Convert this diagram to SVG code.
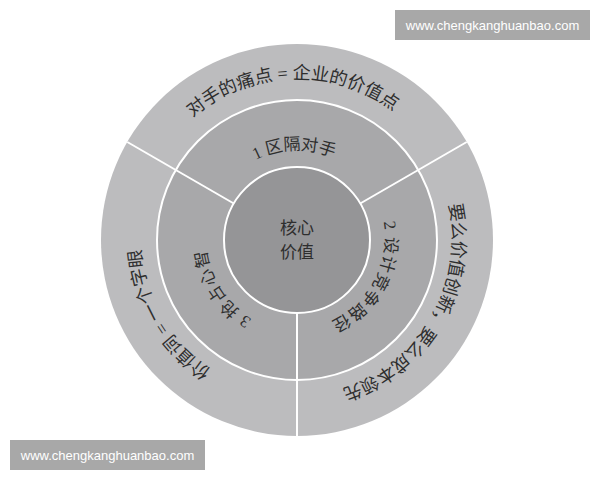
<svg xmlns="http://www.w3.org/2000/svg" xmlns:xlink="http://www.w3.org/1999/xlink" width="600" height="480" viewBox="0 0 600 480">
<style>
.t{font-family:"Liberation Serif","Noto Sans CJK SC",serif;font-size:17px;fill:#2e2e2e;}
.o{font-size:18px;}
.m{letter-spacing:1px;}
.div{stroke:#ffffff;stroke-width:2;fill:none;}
.wm{fill:#a8a8a8;}
.wt{font-family:"Liberation Sans",Arial,sans-serif;font-size:13px;fill:#ffffff;text-anchor:middle;}
</style>
<defs>
<path id="pTopOut" d="M 136,240 A 161 161 0 0 1 458,240"/>
<path id="pRightOut" d="M 376,103.2 A 158 158 0 0 1 218,376.8"/>
<path id="pLeftOut" d="M 375,375.1 A 156 156 0 0 1 219,104.9"/>
<path id="pTopMid" d="M 207,240 A 90 90 0 0 1 387,240"/>
<path id="pRightMid" d="M 339.7,159.7 A 91 91 0 0 1 254.3,320.3"/>
<path id="pLeftMid" d="M 347.6,318 A 93 93 0 0 1 246.4,162"/>
</defs>
<rect width="600" height="480" fill="#ffffff"/>
<g id="outer-ring">
<circle cx="297" cy="240" r="196" fill="#bcbcbe"/>
</g>
<g id="middle-ring">
<circle cx="297" cy="240" r="140" fill="#a8a8aa" stroke="#ffffff" stroke-width="2"/>
</g>
<g id="core">
<circle cx="297" cy="240" r="73" fill="#959597" stroke="#ffffff" stroke-width="2"/>
<text class="t" x="297" y="234" text-anchor="middle">核心</text>
<text class="t" x="297" y="258" text-anchor="middle">价值</text>
</g>
<g id="connectors">
<line class="div" x1="360.2" y1="203.5" x2="466.7" y2="142"/>
<line class="div" x1="233.8" y1="203.5" x2="127.3" y2="142"/>
<line class="div" x1="297" y1="313" x2="297" y2="436"/>
</g>
<g id="seg-1">
<text class="t"><textPath xlink:href="#pTopMid" href="#pTopMid" startOffset="49%" text-anchor="middle">1 区隔对手</textPath></text>
</g>
<g id="seg-2">
<text class="t m"><textPath xlink:href="#pRightMid" href="#pRightMid" startOffset="50%" text-anchor="middle">2 设计竞争路径</textPath></text>
</g>
<g id="seg-3">
<text class="t m"><textPath xlink:href="#pLeftMid" href="#pLeftMid" startOffset="50%" text-anchor="middle">3 抢占心智</textPath></text>
</g>
<g id="outer-top">
<text class="t o"><textPath xlink:href="#pTopOut" href="#pTopOut" startOffset="49%" text-anchor="middle">对手的痛点 = 企业的价值点</textPath></text>
</g>
<g id="outer-right">
<text class="t o"><textPath xlink:href="#pRightOut" href="#pRightOut" startOffset="50%" text-anchor="middle">要么价值创新，要么成本领先</textPath></text>
</g>
<g id="outer-left">
<text class="t o"><textPath xlink:href="#pLeftOut" href="#pLeftOut" startOffset="50%" text-anchor="middle">价值词 = 一个字眼</textPath></text>
</g>
<g id="watermark-top">
<rect class="wm" x="395" y="10" width="195" height="30"/>
<text class="wt" x="492.5" y="29.5">www.chengkanghuanbao.com</text>
</g>
<g id="watermark-bottom">
<rect class="wm" x="10" y="440" width="195" height="30"/>
<text class="wt" x="107.5" y="459.5">www.chengkanghuanbao.com</text>
</g>
</svg>
